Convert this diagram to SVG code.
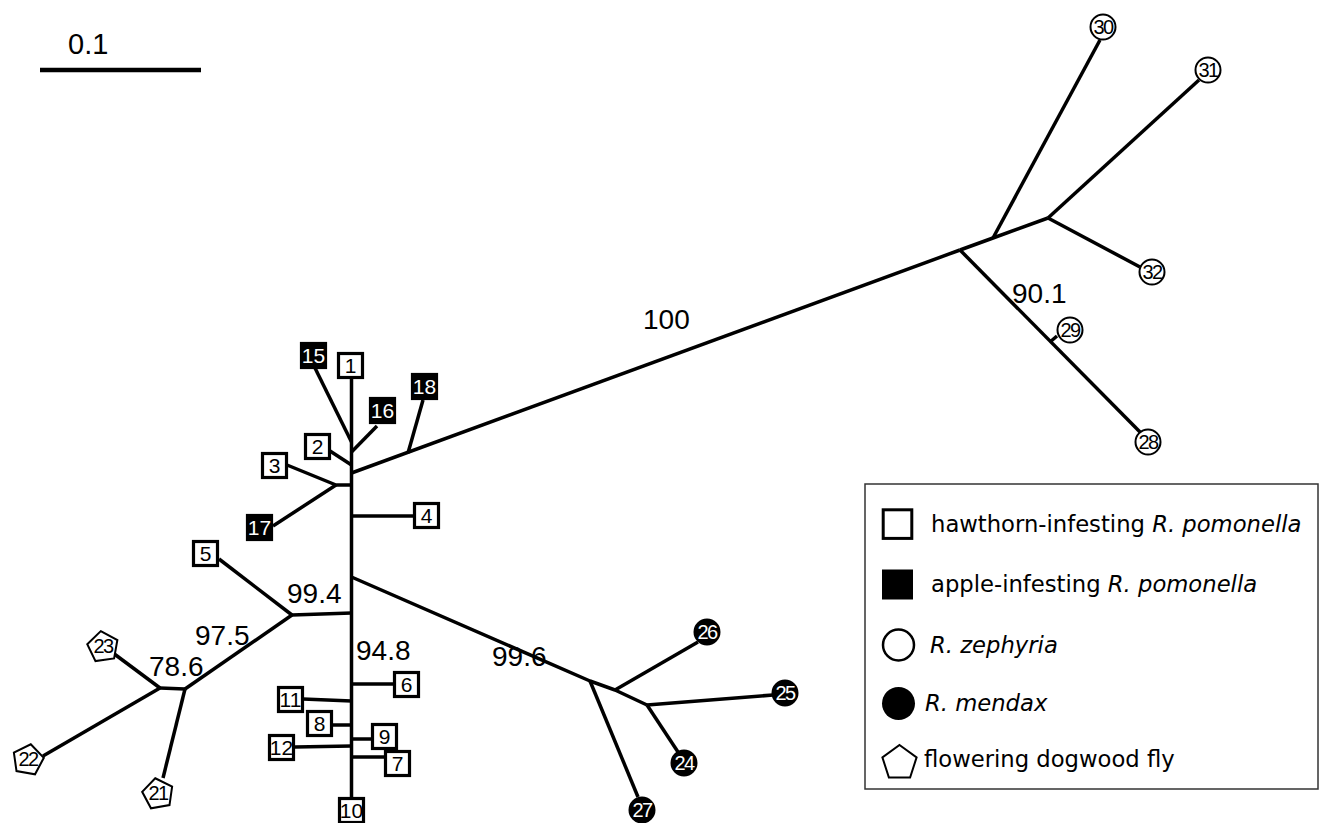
<svg xmlns="http://www.w3.org/2000/svg" width="1320" height="823" viewBox="0 0 1320 823">
<style>
.e{fill:none;stroke:#000;stroke-width:3.5;stroke-linecap:butt;stroke-linejoin:round}
.wb{fill:#fff;stroke:#000;stroke-width:3.2}
.bb{fill:#000;stroke:#000;stroke-width:3.2}
.wc{fill:#fff;stroke:#000;stroke-width:2}
.bc{fill:#000;stroke:#000;stroke-width:2}
.nl{font-family:"Liberation Sans",Arial,sans-serif;font-size:21px;text-anchor:middle;fill:#000}
.nw{font-family:"Liberation Sans",Arial,sans-serif;font-size:21px;text-anchor:middle;fill:#fff}
.cl{font-family:"Liberation Sans",Arial,sans-serif;font-size:20px;text-anchor:middle;letter-spacing:-1.5px;fill:#000}
.cw{font-family:"Liberation Sans",Arial,sans-serif;font-size:20px;text-anchor:middle;letter-spacing:-1.5px;fill:#fff}
.bl{font-family:"Liberation Sans",Arial,sans-serif;font-size:28px;fill:#000}
.lg{font-family:"DejaVu Sans",Verdana,sans-serif;font-size:22.7px;fill:#000}
.it{font-style:italic}
</style>
<rect width="1320" height="823" fill="#fff"/>
<g id="scale">
<line x1="40" y1="70" x2="201" y2="70" stroke="#000" stroke-width="4.5"/>
<text class="bl" x="68" y="54" style="font-size:29px">0.1</text>
</g>
<g id="connectors">
<path class="e" d="M351.5,379 V797"/>
<path class="e" d="M315,368 L351.5,442"/>
<path class="e" d="M377,426 L351.5,452"/>
<path class="e" d="M330,451 L351.5,465"/>
<path class="e" d="M351.5,473 L960,250"/>
<path class="e" d="M423,400 L408,453"/>
<path class="e" d="M287,465 L336,485 H351.5"/>
<path class="e" d="M336,485 L273,526"/>
<path class="e" d="M351.5,516 H413"/>
<path class="e" d="M351.5,613 L292,615"/>
<path class="e" d="M219,559 L292,615"/>
<path class="e" d="M292,615 L185,689"/>
<path class="e" d="M185,689 L160,688"/>
<path class="e" d="M113,653 L160,688"/>
<path class="e" d="M43,756 L160,688"/>
<path class="e" d="M163,778 L185,689"/>
<path class="e" d="M351.5,577 L590,681 L615,690 L647,705"/>
<path class="e" d="M698,642 L615,690"/>
<path class="e" d="M773,695 L647,705"/>
<path class="e" d="M678,752 L647,705"/>
<path class="e" d="M638,797 L590,681"/>
<path class="e" d="M351.5,684 H393"/>
<path class="e" d="M303,699 L351.5,701"/>
<path class="e" d="M332,725 H351.5"/>
<path class="e" d="M351.5,739 H371"/>
<path class="e" d="M295,747 L351.5,746"/>
<path class="e" d="M351.5,757 H384"/>
<path class="e" d="M960,250 L993,238 L1048,218"/>
<path class="e" d="M1100,40 L993,238"/>
<path class="e" d="M1199,80 L1048,218"/>
<path class="e" d="M1140,267 L1048,218"/>
<path class="e" d="M960,250 L1140,432"/>
<path class="e" d="M1057,336 L1050,342"/>
</g>
<g id="branch-labels">
<text class="bl" x="643" y="329">100</text>
<text class="bl" x="1012" y="303">90.1</text>
<text class="bl" x="287" y="603">99.4</text>
<text class="bl" x="195" y="645">97.5</text>
<text class="bl" x="149" y="676">78.6</text>
<text class="bl" x="356" y="660">94.8</text>
<text class="bl" x="492" y="666">99.6</text>
</g>
<g id="n1"><rect class="wb" x="338.5" y="353.5" width="24" height="24"/><text class="nl" x="350.5" y="373">1</text></g>
<g id="n15"><rect class="bb" x="301.5" y="343.5" width="24" height="24"/><text class="nw" x="313.5" y="363">15</text></g>
<g id="n16"><rect class="bb" x="370.5" y="398.5" width="24" height="24"/><text class="nw" x="382.5" y="418">16</text></g>
<g id="n18"><rect class="bb" x="412.5" y="374.5" width="24" height="24"/><text class="nw" x="424.5" y="394">18</text></g>
<g id="n2"><rect class="wb" x="305.5" y="434.5" width="24" height="24"/><text class="nl" x="317.5" y="454">2</text></g>
<g id="n3"><rect class="wb" x="262.5" y="453.5" width="24" height="24"/><text class="nl" x="274.5" y="473">3</text></g>
<g id="n17"><rect class="bb" x="247.5" y="515.5" width="24" height="24"/><text class="nw" x="259.5" y="535">17</text></g>
<g id="n4"><rect class="wb" x="414.5" y="503.5" width="24" height="24"/><text class="nl" x="426.5" y="523">4</text></g>
<g id="n5"><rect class="wb" x="193.5" y="541.5" width="24" height="24"/><text class="nl" x="205.5" y="561">5</text></g>
<g id="n6"><rect class="wb" x="394.5" y="672.5" width="24" height="24"/><text class="nl" x="406.5" y="692">6</text></g>
<g id="n11"><rect class="wb" x="278.5" y="687.5" width="24" height="24"/><text class="nl" x="290.5" y="707">11</text></g>
<g id="n8"><rect class="wb" x="307.5" y="711.5" width="24" height="24"/><text class="nl" x="319.5" y="731">8</text></g>
<g id="n9"><rect class="wb" x="372.5" y="724.5" width="24" height="24"/><text class="nl" x="384.5" y="744">9</text></g>
<g id="n12"><rect class="wb" x="269.5" y="735.5" width="24" height="24"/><text class="nl" x="281.5" y="755">12</text></g>
<g id="n7"><rect class="wb" x="385.5" y="751.5" width="24" height="24"/><text class="nl" x="397.5" y="771">7</text></g>
<g id="n10"><rect class="wb" x="339.5" y="798.5" width="24" height="24"/><text class="nl" x="351.5" y="818">10</text></g>
<g id="n30"><circle class="wc" cx="1103" cy="27" r="12.5"/><text class="cl" x="1103" y="34">30</text></g>
<g id="n31"><circle class="wc" cx="1208" cy="70" r="12.5"/><text class="cl" x="1208" y="77">31</text></g>
<g id="n32"><circle class="wc" cx="1152" cy="272" r="12.5"/><text class="cl" x="1152" y="279">32</text></g>
<g id="n29"><circle class="wc" cx="1070" cy="330" r="12.5"/><text class="cl" x="1070" y="337">29</text></g>
<g id="n28"><circle class="wc" cx="1148" cy="442" r="12.5"/><text class="cl" x="1148" y="449">28</text></g>
<g id="n26"><circle class="bc" cx="707" cy="632" r="12.5"/><text class="cw" x="707" y="639">26</text></g>
<g id="n25"><circle class="bc" cx="785" cy="693" r="12.5"/><text class="cw" x="785" y="700">25</text></g>
<g id="n24"><circle class="bc" cx="684" cy="763" r="12.5"/><text class="cw" x="684" y="770">24</text></g>
<g id="n27"><circle class="bc" cx="642" cy="810" r="12.5"/><text class="cw" x="642" y="817">27</text></g>
<g id="n23"><polygon class="wc" transform="translate(103,647) rotate(-8)" points="0,-16 15.2,-4.9 9.4,12.9 -9.4,12.9 -15.2,-4.9"/><text class="cl" x="103" y="653">23</text></g>
<g id="n22"><polygon class="wc" transform="translate(28,760) rotate(10)" points="0,-16 15.2,-4.9 9.4,12.9 -9.4,12.9 -15.2,-4.9"/><text class="cl" x="28" y="766">22</text></g>
<g id="n21"><polygon class="wc" transform="translate(158,794) rotate(-10)" points="0,-16 15.2,-4.9 9.4,12.9 -9.4,12.9 -15.2,-4.9"/><text class="cl" x="158" y="800">21</text></g>
<g id="legend">
<rect x="865" y="484" width="453" height="305" fill="#fff" stroke="#333" stroke-width="1.5"/>
<rect x="883.2" y="509.8" width="28.6" height="28.6" fill="#fff" stroke="#000" stroke-width="3"/>
<text class="lg" x="931" y="531.7">hawthorn-infesting <tspan class="it">R. pomonella</tspan></text>
<rect x="882" y="569.5" width="31" height="30" fill="#000"/>
<text class="lg" x="931" y="591.7">apple-infesting <tspan class="it">R. pomonella</tspan></text>
<circle cx="898.5" cy="645" r="15.5" fill="#fff" stroke="#000" stroke-width="2.5"/>
<text class="lg it" x="930" y="652.7">R. zephyria</text>
<circle cx="898.5" cy="703.5" r="16.5" fill="#000"/>
<text class="lg it" x="925" y="710.7">R. mendax</text>
<polygon fill="#fff" stroke="#000" stroke-width="2" transform="translate(899.5,763)" points="0,-18 17.1,-5.6 10.6,14.6 -10.6,14.6 -17.1,-5.6"/>
<text class="lg" x="924" y="767.3">flowering dogwood fly</text>
</g>
</svg>
